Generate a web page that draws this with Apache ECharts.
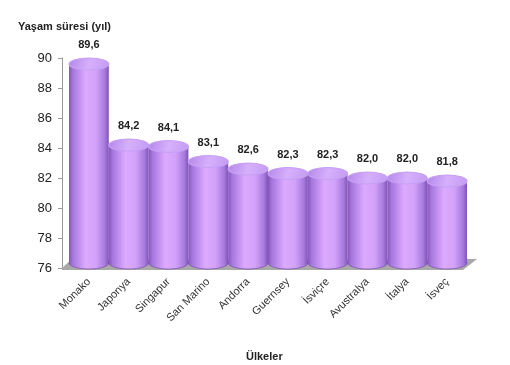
<!DOCTYPE html>
<html><head><meta charset="utf-8">
<script src="https://cdn.jsdelivr.net/npm/echarts@6/dist/echarts.min.js"></script>
<style>html,body{margin:0;padding:0;background:#fff}#c{width:510px;height:365px}</style>
</head><body><div id="c"></div>
<script>
const categories = ['Monako','Japonya','Singapur','San Marino','Andorra','Guernsey','İsviçre','Avustralya','İtalya','İsveç'];
const values = [89.6, 84.2, 84.1, 83.1, 82.6, 82.3, 82.3, 82.0, 82.0, 81.8];
const yMin = 76, yMax = 90, yStep = 2;

const chart = echarts.init(document.getElementById('c'), null, {renderer:'canvas'});
const fmt = v => v.toFixed(1).replace('.', ',');

function bodyGrad(){
  return new echarts.graphic.LinearGradient(0,0,1,0,[
    {offset:0, color:'#8656bd'},
    {offset:0.1, color:'#a677de'},
    {offset:0.42, color:'#dcaafe'},
    {offset:0.68, color:'#d2a2f9'},
    {offset:0.9, color:'#a679dd'},
    {offset:1, color:'#7f52b4'}
  ]);
}

chart.setOption({
  backgroundColor:'#fff',
  animation:false,
  title:[
    {text:'Yaşam süresi (yıl)', left:13, top:16, textStyle:{fontFamily:'Liberation Sans, Arial', fontSize:11, fontWeight:'bold', color:'#222'}},
    {text:'Ülkeler', left:241, top:346, textStyle:{fontFamily:'Liberation Sans, Arial', fontSize:11, fontWeight:'bold', color:'#222'}}
  ],
  grid:{left:69, right:43, top:58, bottom:97},
  xAxis:{type:'category', data:categories,
    axisLine:{show:false}, axisTick:{show:false},
    axisLabel:{rotate:45, fontSize:11, color:'#333', fontFamily:'Liberation Sans, Arial', margin:12, interval:0}},
  yAxis:{type:'value', min:yMin, max:yMax, interval:yStep, offset:7,
    axisLine:{show:true, lineStyle:{color:'#999'}},
    axisTick:{show:true, length:4, lineStyle:{color:'#999'}},
    splitLine:{show:false},
    axisLabel:{fontSize:13, color:'#222', fontFamily:'Liberation Sans, Arial', margin:10}},
  series:[
    {type:'custom', z:1, data:[[0, yMin]], silent:true,
     renderItem:function(params, api){
       const cs = params.coordSys;
       const by = cs.y + cs.height;
       return {type:'polygon', shape:{points:[[cs.x-7, by],[cs.x+3, by-9],[cs.x+cs.width+10, by-9],[cs.x+cs.width-4, by+2],[cs.x-7, by+2]]},
         style:{fill:'#a8a8a8'}};
     }},
    {type:'custom', z:2, data:values.map((v,i)=>[i,v]),
     renderItem:function(params, api){
       const cat = api.value(0), val = api.value(1);
       const top = api.coord([cat, val]);
       const base = api.coord([cat, yMin]);
       const bw = api.size([1,0])[0]*1.0;
       const x0 = top[0]-bw/2;
       const ry = 6;
       const botY = base[1]-5;
       return {type:'group', children:[
         {type:'ellipse', shape:{cx:top[0], cy:botY, rx:bw/2, ry:ry}, style:{fill:bodyGrad(), stroke:'#7a4fae', lineWidth:0.7}},
         {type:'rect', shape:{x:x0, y:top[1], width:bw, height:botY-top[1]}, style:{fill:bodyGrad()}},
         {type:'ellipse', shape:{cx:top[0], cy:top[1], rx:bw/2, ry:ry},
           style:{fill:new echarts.graphic.LinearGradient(0,0,1,1,[{offset:0,color:'#b285e8'},{offset:0.5,color:'#d6b0fc'},{offset:1,color:'#c29af2'}]), stroke:'#c6a0f4', lineWidth:1.2}},
         {type:'text', style:{text:fmt(val), x:top[0], y:top[1]-19, align:'center', verticalAlign:'middle',
           font:'bold 11px "Liberation Sans", Arial', fill:'#222'}}
       ]};
     }}
  ]
});
</script></body></html>
